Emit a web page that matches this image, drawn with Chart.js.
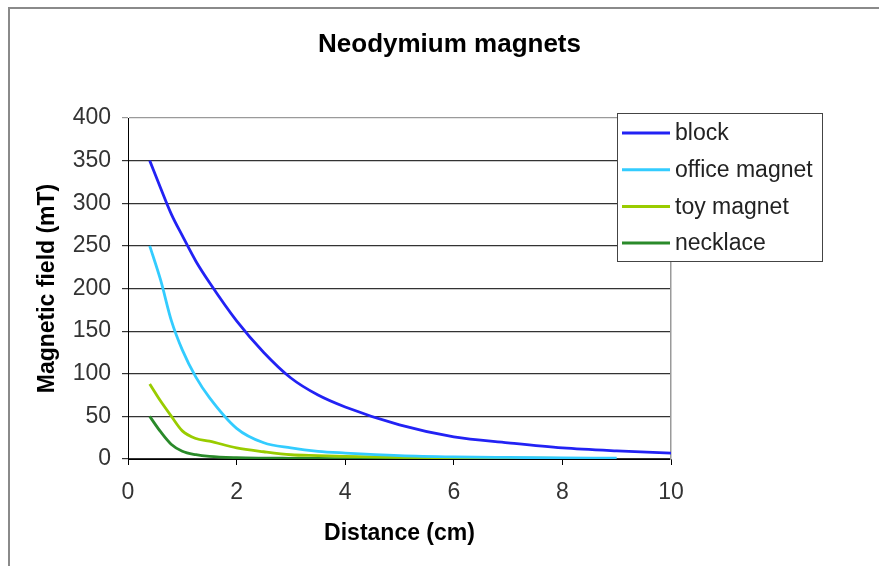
<!DOCTYPE html>
<html><head><meta charset="utf-8">
<script src="https://cdn.jsdelivr.net/npm/chart.js@4/dist/chart.umd.min.js"></script>
<style>html,body{margin:0;padding:0;background:#fff;overflow:hidden}</style>
</head><body>
<canvas id="c" width="879" height="566" style="display:block;width:879px;height:566px"></canvas>
<script>
const chartTitle = 'Neodymium magnets';
const xAxisTitle = 'Distance (cm)';
const yAxisTitle = 'Magnetic field (mT)';
const seriesNames = ['block', 'office magnet', 'toy magnet', 'necklace'];
const seriesColors = ['#2222f4', '#33ccff', '#99cc00', '#2a8a2a'];
const distance = [0.4, 0.6, 0.8, 1.0, 1.25, 1.5, 2, 2.5, 3, 3.5, 4, 5, 6, 7, 8, 9, 10];
const block = [350, 318, 287, 262, 232, 207, 162, 125, 95, 75, 61, 40, 26, 19, 13, 9.5, 7];
const officeMagnet = [250, 210, 162, 128, 96, 72, 36, 19, 13, 9, 7, 4, 2.5, 1.8, 1.3, 1];
const toyMagnet = [88, 68, 50, 33, 24, 21, 13, 8.5, 5, 4, 3, 2, 1.5, 1, 0.8];
const necklace = [50, 32, 17, 9, 5, 3, 1.5, 1, 0.8, 0.6, 0.5, 0.3, 0.2];
const xMin = 0, xMax = 10, xStep = 2;
const yMin = 0, yMax = 400, yStep = 50;

const seriesValues = [block, officeMagnet, toyMagnet, necklace];
const FONT = "'Liberation Sans', Arial, sans-serif";
Chart.defaults.font.family = FONT;

const framePlugin = {
  id: 'frame',
  beforeDraw(chart) {
    const ctx = chart.ctx;
    ctx.save();
    ctx.fillStyle = '#fff';
    ctx.fillRect(0, 0, chart.width, chart.height);
    ctx.strokeStyle = '#8a8a8a';
    ctx.lineWidth = 2;
    ctx.beginPath();
    ctx.moveTo(9, chart.height);
    ctx.lineTo(9, 8);
    ctx.lineTo(chart.width, 8);
    ctx.stroke();
    ctx.restore();
  }
};

const legendPlugin = {
  id: 'boxLegend',
  afterDraw(chart) {
    const ctx = chart.ctx;
    ctx.save();
    ctx.fillStyle = '#fff';
    ctx.fillRect(617, 113, 206, 149);
    ctx.strokeStyle = '#444';
    ctx.lineWidth = 1;
    ctx.strokeRect(617.5, 113.5, 205, 148);
    chart.data.datasets.forEach((ds, i) => {
      const y = 133 + i * 36.7;
      ctx.strokeStyle = ds.borderColor;
      ctx.lineWidth = 3;
      ctx.beginPath();
      ctx.moveTo(622, y);
      ctx.lineTo(670, y);
      ctx.stroke();
      ctx.fillStyle = '#222';
      ctx.font = '23px ' + FONT;
      ctx.textBaseline = 'middle';
      ctx.textAlign = 'left';
      ctx.fillText(ds.label, 675, y + 1);
    });
    ctx.restore();
  }
};

new Chart(document.getElementById('c'), {
  type: 'line',
  data: {
    datasets: seriesNames.map((name, i) => ({
      label: name,
      data: seriesValues[i].map((v, j) => ({ x: distance[j], y: v })),
      borderColor: seriesColors[i],
      backgroundColor: seriesColors[i],
      borderWidth: 2.8,
      pointRadius: 0,
      fill: false,
      cubicInterpolationMode: 'monotone'
    }))
  },
  options: {
    responsive: false,
    animation: false,
    devicePixelRatio: 1,
    layout: { padding: { left: 20, right: 0, top: 0, bottom: 0 } },
    plugins: {
      legend: { display: false },
      tooltip: { enabled: false },
      title: {
        display: true,
        text: chartTitle,
        color: '#000',
        font: { size: 26, weight: 'bold' },
        padding: { top: 29, bottom: 57.8 }
      }
    },
    scales: {
      x: {
        type: 'linear',
        min: xMin, max: xMax,
        ticks: { stepSize: xStep, color: '#333', font: { size: 23 }, padding: 14 },
        grid: { display: true, drawOnChartArea: false, drawTicks: true, tickLength: 6, color: '#000' },
        border: { display: true, color: '#000', width: 1 },
        title: { display: true, text: xAxisTitle, color: '#000', font: { size: 23, weight: 'bold' }, padding: { top: 0, bottom: 19 } },
        afterFit(s) { s.height = 107; }
      },
      y: {
        type: 'linear',
        min: yMin, max: yMax,
        ticks: { stepSize: yStep, color: '#333', font: { size: 23 }, padding: 11 },
        grid: {
          color: c => (c.tick && c.tick.value === yMax) ? '#9a9a9a' : '#333',
          lineWidth: 1.2,
          tickLength: 6,
          drawTicks: true
        },
        border: { display: true, color: '#000', width: 1 },
        title: { display: true, text: yAxisTitle, color: '#000', font: { size: 23, weight: 'bold' }, padding: { top: 14, bottom: 0 } },
        afterFit(s) { s.width = 108; }
      },
      yRight: {
        type: 'linear',
        position: 'right',
        min: yMin, max: yMax,
        display: true,
        ticks: { display: false },
        grid: { display: false, drawTicks: false },
        border: { display: true, color: '#9a9a9a', width: 1.5 },
        title: { display: false },
        afterFit(s) { s.width = 208; }
      }
    }
  },
  plugins: [framePlugin, legendPlugin]
});
</script>
</body></html>
